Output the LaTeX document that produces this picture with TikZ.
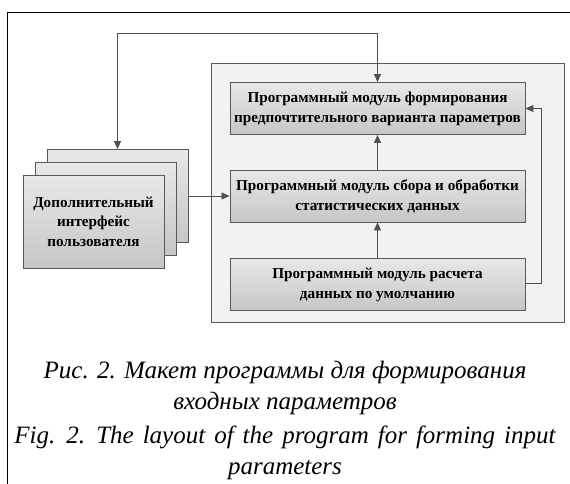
\documentclass[tikz,border=0pt]{standalone}
\usepackage{fontspec}
\setmainfont{Liberation Serif}
\usepackage{xcolor}
\usetikzlibrary{arrows.meta}

\definecolor{boxline}{HTML}{595959}
\definecolor{panelfill}{HTML}{F2F2F2}
\definecolor{conncol}{HTML}{505050}

\tikzset{
  modbox/.style={draw=boxline, line width=0.9pt, top color=gray!18, bottom color=gray!45,
    minimum width=295pt, minimum height=52pt, align=center, inner sep=2pt,
    font=\fontsize{15.2}{20}\selectfont\bfseries},
  userbox/.style={draw=boxline, line width=0.9pt, top color=gray!18, bottom color=gray!45,
    minimum width=141pt, minimum height=93pt, align=center, inner sep=2pt,
    font=\fontsize{15.2}{19.5}\selectfont\bfseries},
  conn/.style={draw=conncol, line width=0.8pt, arrows={-Triangle[length=8pt, width=7pt]}},
  capt/.style={align=center, font=\fontsize{25}{31}\selectfont\itshape}
}

\begin{document}
\begin{tikzpicture}[x=1pt, y=-1pt]
\useasboundingbox (0,0) rectangle (570,484);

% frame and panel
\draw[line width=1pt] (570,13) -- (7,13) -- (7,484);
\draw[draw=gray!70!black, fill=panelfill, line width=0.8pt] (211,63) rectangle (564,322);

% modules
\node[modbox] (pref) at (377.5,108.5) {Программный модуль формирования\\предпочтительного варианта параметров};
\node[modbox] (stat) at (377.5,196) {Программный модуль сбора и обработки\\статистических данных};
\node[modbox] (dflt) at (377.5,284.5) {Программный модуль расчета\\данных по умолчанию};

% user interface stack
\node[userbox] (userback) at (117.5,196) {};
\node[userbox] (usermid) at (105.5,208.75) {};
\node[userbox] (user) at (93.5,221.5) {Дополнительный\\интерфейс\\пользователя};

% connectors
\draw[conn] (userback) -- (stat);
\draw[conn] (stat) -- (pref);
\draw[conn] (dflt) -- (stat);
\draw[conn] (dflt.east) ++(0,-1.5) -- ++(16,0) |- (pref.east);
\draw[conn, arrows={Triangle[length=8pt, width=7pt]-Triangle[length=8pt, width=7pt]}]
  (pref.north) -- ++(0,-49) -| (userback.north);

% caption
\node[capt] (rucap) at (285,388) {Рис. 2. Макет программы для формирования\\входных параметров};
\node[capt] (encap) at (285,453) {{\spaceskip=0.36em\relax Fig. 2. The layout of the program for forming input}\\parameters};
\end{tikzpicture}
\end{document}
